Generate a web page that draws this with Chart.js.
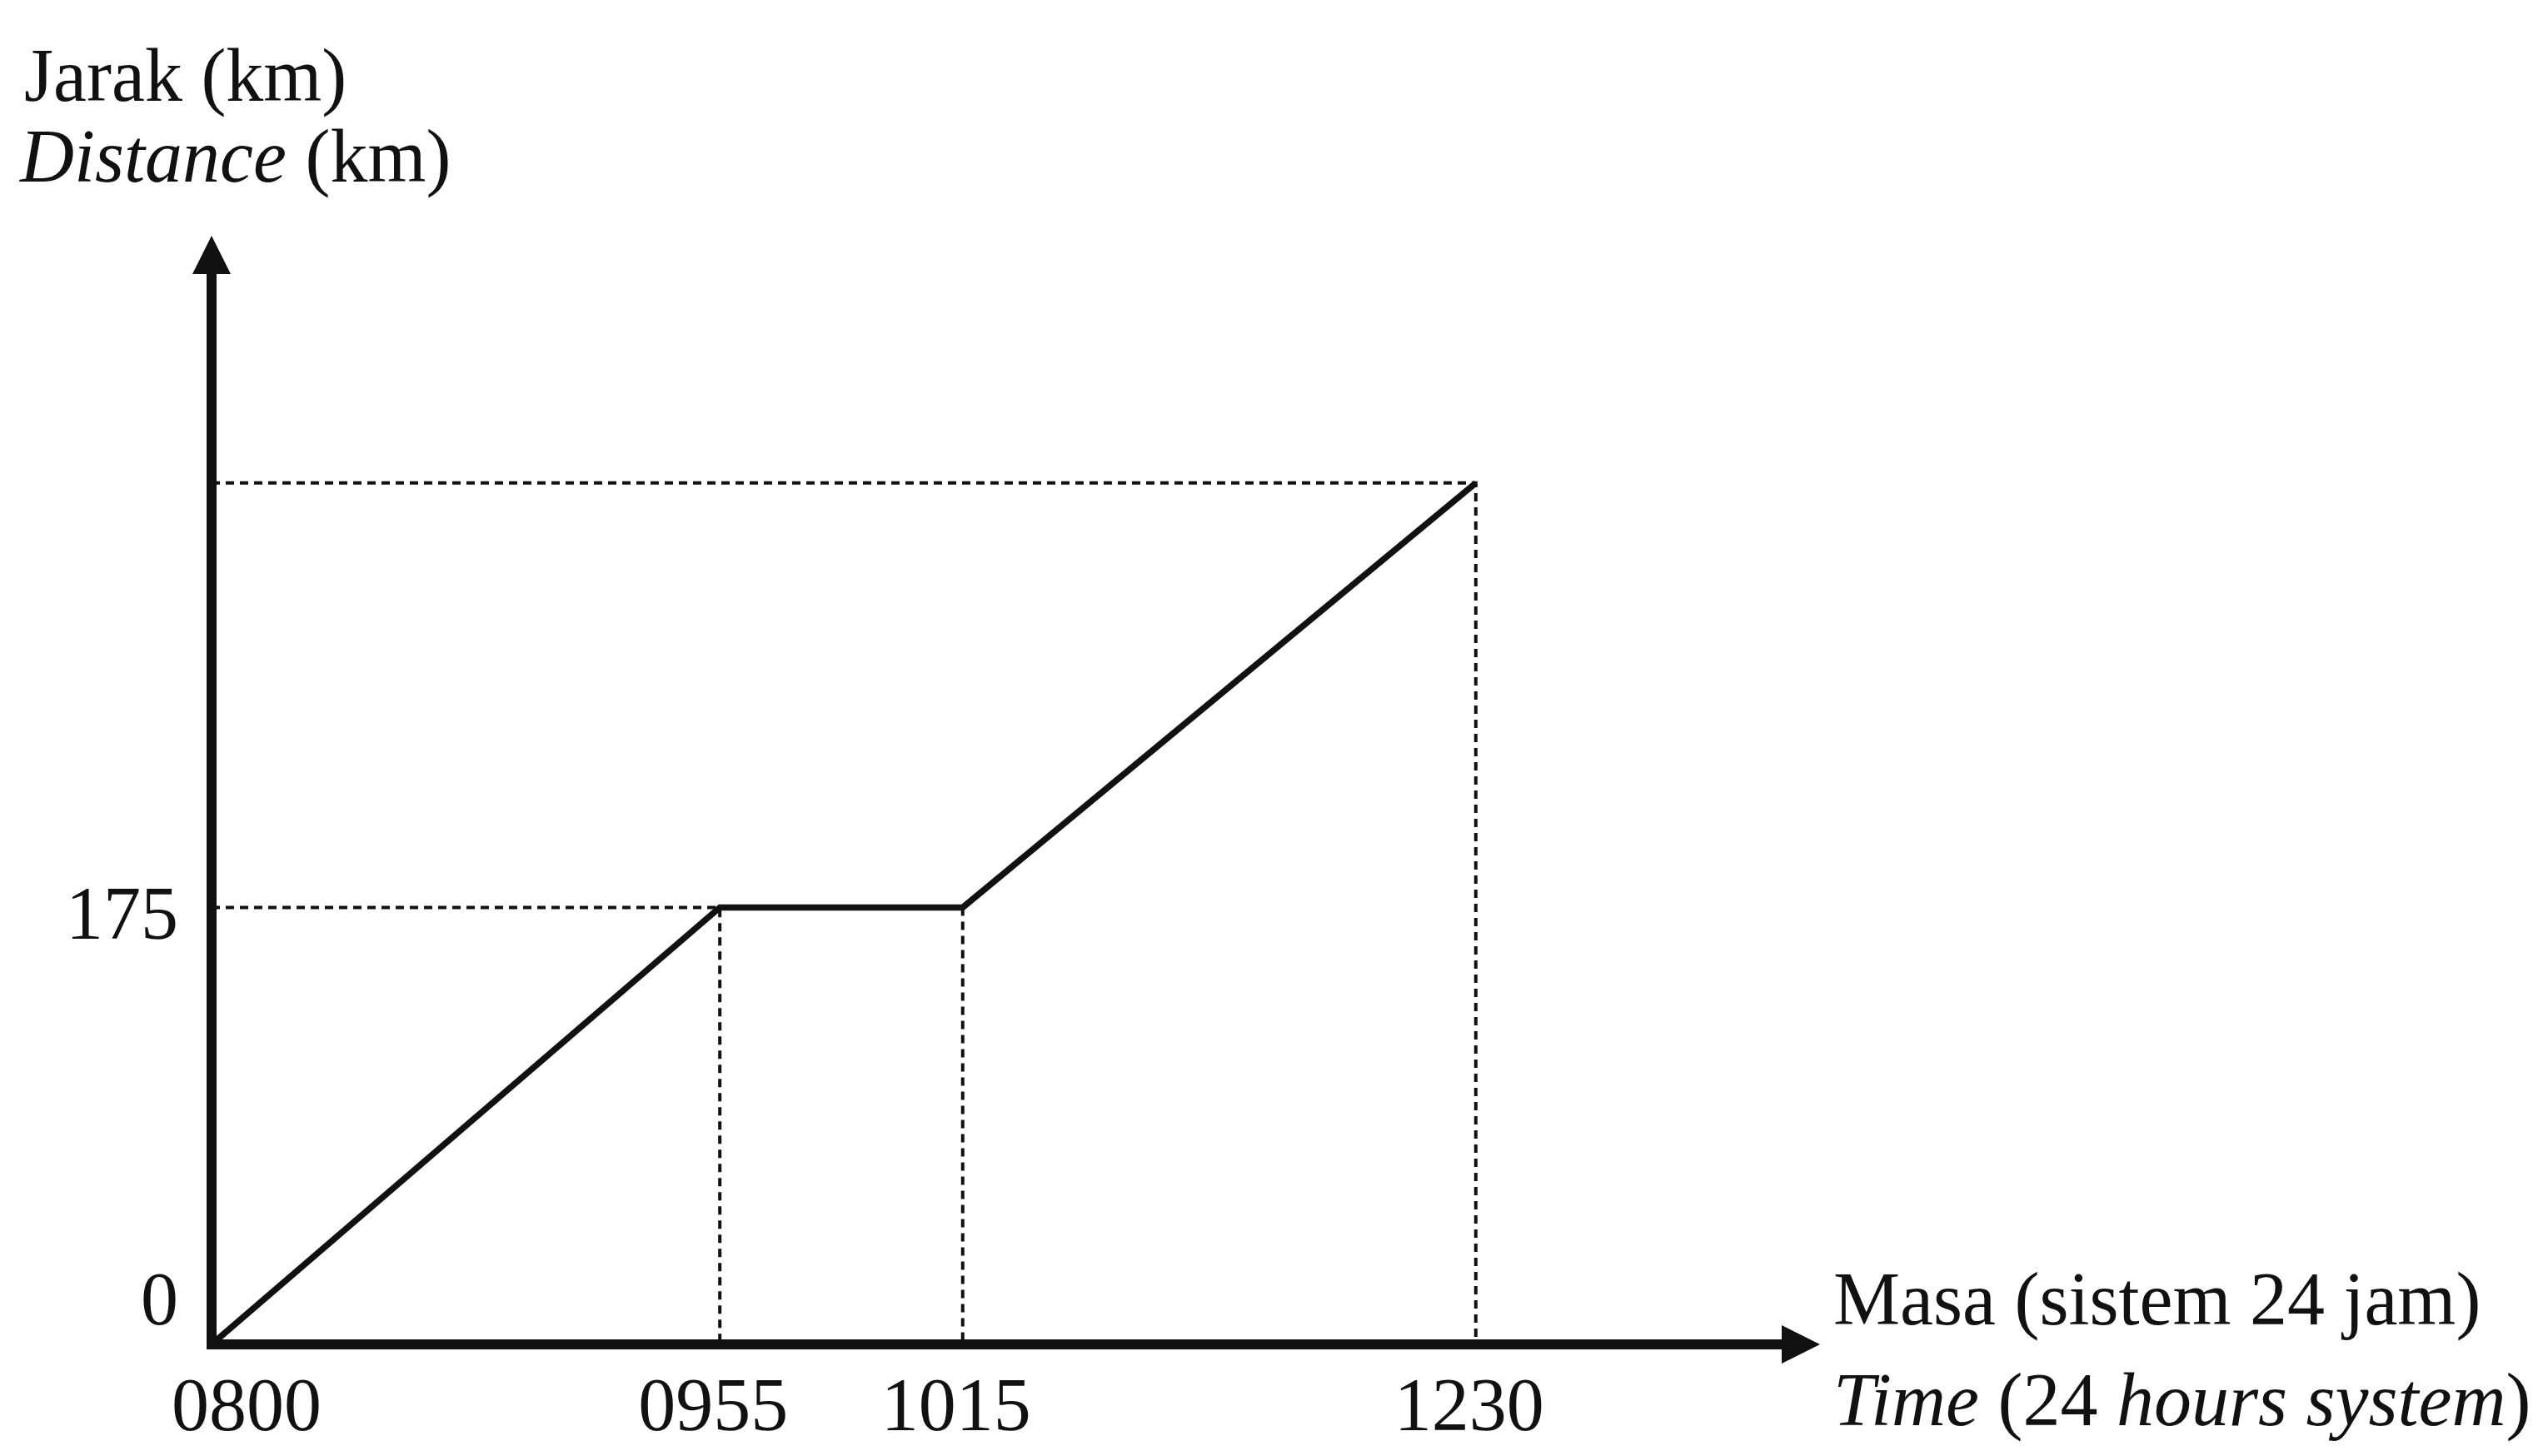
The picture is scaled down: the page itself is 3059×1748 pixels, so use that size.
<!DOCTYPE html>
<html>
<head>
<meta charset="utf-8">
<script src="https://cdn.jsdelivr.net/npm/chart.js@4.4.1/dist/chart.umd.min.js"></script>
<style>
  html, body { margin: 0; padding: 0; background: #fff; }
  #wrap { width: 3059px; height: 1748px; }
</style>
</head>
<body>
<div id="wrap"><canvas id="myChart" width="3059" height="1748"></canvas></div>
<script>
// the time axis in the source is not to scale, so every time gets its own spot along the axis (0..100)
const timeLabels = ["0800", "0955", "1015", "1230"];
const timePos = [0, 31.6, 46.7, 78.6];
const distance = [0, 175, 175, 345];
const distanceTicks = [0, 175];
const xMax = 100;
const yMax = 444;

const ink = "#111111";
const serif = "'Liberation Serif', 'DejaVu Serif', serif";

// main line
const mainPoints = timePos.map((x, i) => ({ x: x, y: distance[i] }));

// dashed guide lines from each turning point to the axes
const guideSets = [];
for (let i = 1; i < timePos.length; i++) {
  let pts = [];
  if (distance[i] !== distance[i - 1]) pts.push({ x: 0, y: distance[i] });
  pts.push({ x: timePos[i], y: distance[i] });
  pts.push({ x: timePos[i], y: 0 });
  guideSets.push({
    data: pts,
    borderColor: ink,
    borderWidth: 4,
    borderDash: [10, 7],
    pointRadius: 0,
    order: 1,
  });
}

// axes with arrow heads
const axesPlugin = {
  id: "axes",
  afterDatasetsDraw(chart) {
    const ctx = chart.ctx;
    const a = chart.chartArea;
    const head = 46;
    ctx.save();
    ctx.strokeStyle = ink;
    ctx.fillStyle = ink;
    ctx.lineWidth = 12;
    ctx.lineCap = "square";
    ctx.beginPath();
    ctx.moveTo(a.left, a.top + head - 4);
    ctx.lineTo(a.left, a.bottom);
    ctx.lineTo(a.right - head + 4, a.bottom);
    ctx.stroke();
    // y arrow
    ctx.beginPath();
    ctx.moveTo(a.left, a.top);
    ctx.lineTo(a.left - 23, a.top + head);
    ctx.lineTo(a.left + 23, a.top + head);
    ctx.closePath();
    ctx.fill();
    // x arrow
    ctx.beginPath();
    ctx.moveTo(a.right, a.bottom);
    ctx.lineTo(a.right - head, a.bottom - 23);
    ctx.lineTo(a.right - head, a.bottom + 23);
    ctx.closePath();
    ctx.fill();
    ctx.restore();
  },
};

// text: tick labels and axis titles
function drawParts(ctx, parts, x, y) {
  parts.forEach((p) => {
    ctx.font = (p[1] ? "italic " : "") + "90px " + serif;
    ctx.fillText(p[0], x, y);
    x += ctx.measureText(p[0]).width;
  });
}

const labelPlugin = {
  id: "labels",
  afterDraw(chart) {
    const ctx = chart.ctx;
    const xs = chart.scales.x;
    const ys = chart.scales.y;
    const a = chart.chartArea;
    ctx.save();
    ctx.fillStyle = ink;
    ctx.textBaseline = "alphabetic";
    ctx.font = "90px " + serif;

    timeLabels.forEach((t, i) => {
      const px = xs.getPixelForValue(timePos[i]);
      if (i === 0) {
        ctx.textAlign = "left";
        ctx.fillText(t, px - 48, a.bottom + 103);
      } else {
        ctx.textAlign = "center";
        ctx.fillText(t, px - 8, a.bottom + 103);
      }
    });

    ctx.textAlign = "right";
    distanceTicks.forEach((v) => {
      const py = ys.getPixelForValue(v);
      ctx.fillText(String(v), a.left - 40, v === 0 ? py - 24 : py + 38);
    });

    ctx.textAlign = "left";
    drawParts(ctx, [["Jarak (km)", false]], 29, 121);
    drawParts(ctx, [["Distance", true], [" (km)", false]], 24, 218);
    drawParts(ctx, [["Masa (sistem 24 jam)", false]], 2201, 1590);
    drawParts(ctx, [["Time", true], [" (24 ", false], ["hours system", true], [")", false]], 2201, 1711);
    ctx.restore();
  },
};

const ctx = document.getElementById("myChart").getContext("2d");
const myChart = new Chart(ctx, {
  type: "line",
  data: {
    datasets: [
      {
        data: mainPoints,
        borderColor: ink,
        borderWidth: 7.5,
        pointRadius: 0,
        tension: 0,
        order: 0,
      },
      ...guideSets,
    ],
  },
  options: {
    responsive: false,
    devicePixelRatio: 1,
    animation: false,
    layout: { padding: { left: 254, top: 283, right: 874, bottom: 134 } },
    scales: {
      x: { type: "linear", min: 0, max: xMax, display: false },
      y: { type: "linear", min: 0, max: yMax, display: false },
    },
    plugins: { legend: { display: false }, tooltip: { enabled: false } },
  },
  plugins: [axesPlugin, labelPlugin],
});
</script>
</body>
</html>
